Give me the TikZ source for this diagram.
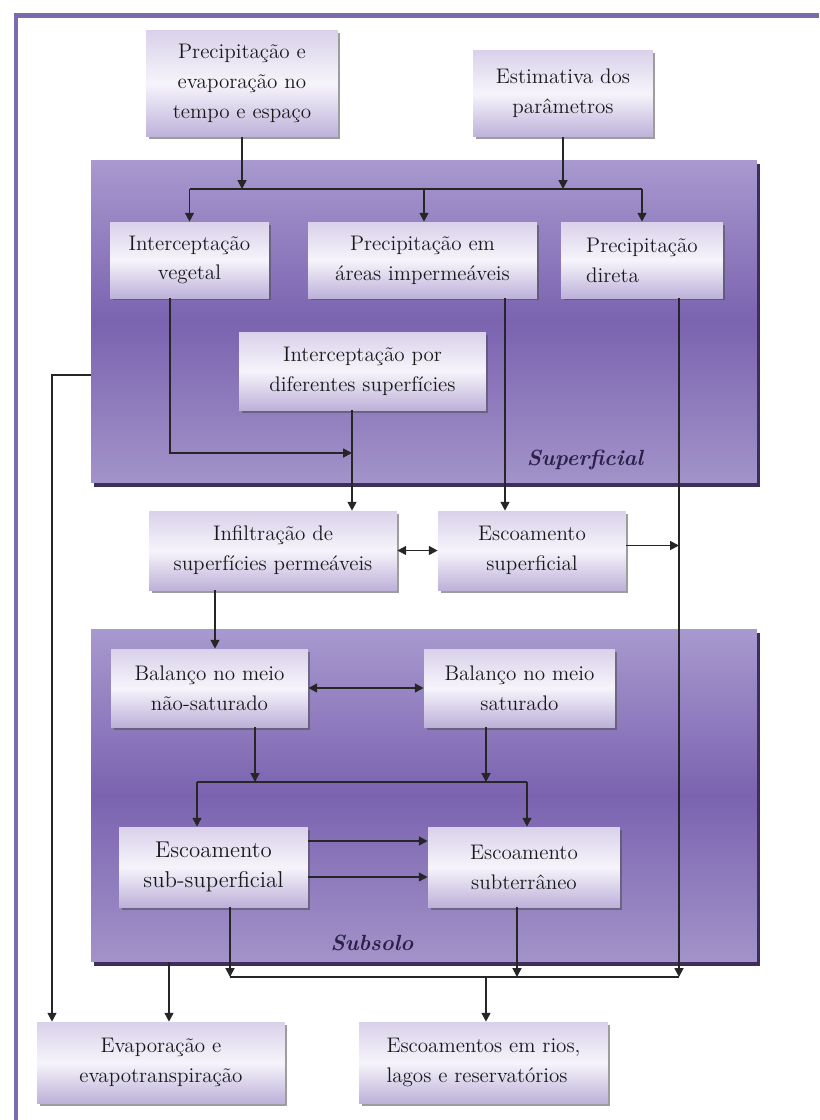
\documentclass[tikz,border=0pt]{standalone}
\usepackage{fontspec}
\usetikzlibrary{arrows.meta,shadows}
\definecolor{paneltop}{HTML}{A899CF}
\definecolor{panelmid}{HTML}{7B63B0}
\definecolor{panelbot}{HTML}{A293C9}
\definecolor{panelshade}{HTML}{3D2E5E}
\definecolor{boxtop}{HTML}{D9D1EA}
\definecolor{boxmid}{HTML}{F6F4FB}
\definecolor{boxbot}{HTML}{BDB1D9}
\definecolor{framecol}{HTML}{7B6AAD}
\definecolor{lblcol}{HTML}{2A2048}
\tikzset{
  panel/.style={rectangle, inner sep=0pt, top color=paneltop, bottom color=panelbot, middle color=panelmid,
    drop shadow={shadow xshift=0.06cm, shadow yshift=-0.08cm, fill=panelshade, opacity=1}},
  box/.style={rectangle, inner sep=2pt, align=center, font=\fontsize{12}{17}\selectfont, text=black!90,
    top color=boxtop, bottom color=boxbot, middle color=boxmid,
    drop shadow={shadow xshift=0.05cm, shadow yshift=-0.05cm, fill=black!70, opacity=.55}},
  lbl/.style={font=\fontsize{12.5}{15}\selectfont\bfseries\itshape, text=lblcol},
  conn/.style={draw=black!85, line width=1pt},
  arr/.style={conn, -{Triangle[length=5pt,width=5pt]}},
  arrb/.style={conn, {Triangle[length=5pt,width=5pt]}-{Triangle[length=5pt,width=5pt]}}
}
\begin{document}
\begin{tikzpicture}[x=0.02cm, y=-0.02cm]
\useasboundingbox (0,0) rectangle (819,1120);
\draw[framecol, line width=0.1cm] (16,1120) -- (16,15) -- (819,15);
\node[panel, minimum width=13.32cm, minimum height=6.46cm] (supf) at (424,321.5){};
\node[panel, minimum width=13.32cm, minimum height=6.66cm] (subs) at (424,795.5){};
\node[lbl] (lsupf) at (585,460){Superficial};
\node[lbl] (lsubs) at (372,943){Subsolo};
\node[box, minimum width=3.84cm, minimum height=2.14cm] (prec) at (242,83.5){Precipitação e\\evaporação no\\tempo e espaço};
\node[box, minimum width=3.6cm, minimum height=1.74cm] (estim) at (563,93.5){Estimativa dos\\parâmetros};
\node[box, minimum width=3.18cm, minimum height=1.52cm] (intveg) at (189.5,260){Interceptação\\vegetal};
\node[box, minimum width=4.58cm, minimum height=1.52cm] (precimp) at (422.5,260){Precipitação em\\áreas impermeáveis};
\node[box, minimum width=3.24cm, minimum height=1.52cm, align=left] (precdir) at (642,260){Precipitação\\direta};
\node[box, minimum width=4.94cm, minimum height=1.56cm] (intsup) at (362.5,371){Interceptação por\\diferentes superfícies};
\node[box, minimum width=4.96cm, minimum height=1.58cm] (infil) at (273,550.5){Infiltração de\\superfícies permeáveis};
\node[box, minimum width=3.76cm, minimum height=1.58cm] (escsup) at (532,550.5){Escoamento\\superficial};
\node[box, minimum width=3.94cm, minimum height=1.56cm] (balns) at (209.5,688){Balanço no meio\\não-saturado};
\node[box, minimum width=3.82cm, minimum height=1.56cm] (bals) at (519.5,688){Balanço no meio\\saturado};
\node[box, minimum width=3.78cm, minimum height=1.6cm, font=\fontsize{13}{17}\selectfont] (escss) at (213.5,867){Escoamento\\sub-superficial};
\node[box, minimum width=3.84cm, minimum height=1.6cm] (escst) at (524,867){Escoamento\\subterrâneo};
\node[box, minimum width=4.96cm, minimum height=1.62cm] (evap) at (161,1062.5){Evaporação e\\evapotranspiração};
\node[box, minimum width=4.98cm, minimum height=1.62cm, align=left] (escrios) at (483.5,1062.5){Escoamentos em rios,\\lagos e reservatórios};
\coordinate (br1) at (424,189);
\coordinate (cv) at (170,453);
\coordinate (cj) at (352,453);
\coordinate (xi) at (505,400);
\coordinate (xd) at (679,977);
\coordinate (xm) at (230,977);
\coordinate (xt) at (517,977);
\coordinate (xr) at (486,977);
\coordinate (xf) at (215,600);
\coordinate (xb1) at (255,782);
\coordinate (xb2) at (486,782);
\coordinate (xl) at (197,782);
\coordinate (xr2) at (527,782);
\coordinate (xl1) at (52,375);
\coordinate (xe) at (169,1000);
\draw[arr](prec.south) -- (prec.south |- br1);
\draw[arr](estim.south) -- (estim.south |- br1);
\draw[conn](intveg.north |- br1) -- (precdir.north |- br1);
\draw[arr](br1) -- (br1 |- precimp.north);
\draw[arr](intveg.north |- br1) -- (intveg.north);
\draw[arr](precdir.north |- br1) -- (precdir.north);
\draw[arr](intveg.south -| cv) -- (cv) -- (cj);
\draw[arr](intsup.south -| cj) -- (infil.north -| cj);
\draw[arr](precimp.south -| xi) -- (escsup.north -| xi);
\draw[arr](precdir.south -| xd) -- (xd);
\draw[arrb](infil.east) -- (escsup.west);
\draw[arr]([yshift=0.1cm]escsup.east) -- ([yshift=0.1cm]escsup.east -| xd);
\draw[arr](infil.south -| xf) -- (balns.north -| xf);
\draw[arrb](balns.east) -- (bals.west);
\draw[arr](balns.south -| xb1) -- (xb1);
\draw[arr](bals.south -| xb2) -- (xb2);
\draw[conn](xl) -- (xr2);
\draw[arr](xl) -- (escss.north -| xl);
\draw[arr](xr2) -- (escst.north -| xr2);
\draw[arr]([yshift=0.52cm]escss.east) -- ([yshift=0.52cm]escss.east -| escst.west);
\draw[arr]([yshift=-0.2cm]escss.east) -- ([yshift=-0.2cm]escss.east -| escst.west);
\draw[arr](escss.south -| xm) -- (xm);
\draw[arr](escst.south -| xt) -- (xt);
\draw[conn](xm) -- (xd);
\draw[arr](xr) -- (escrios.north -| xr);
\draw[arr](supf.west |- xl1) -- (xl1) -- (evap.north -| xl1);
\draw[arr](subs.south -| xe) -- (evap.north -| xe);
\end{tikzpicture}
\end{document}
